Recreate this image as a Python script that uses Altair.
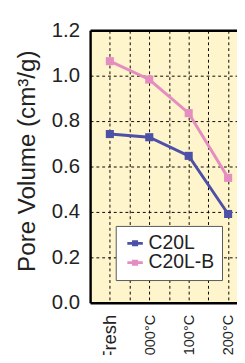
import json
import altair as alt
import pandas as pd

categories = ["Fresh", "1000°C", "1100°C", "1200°C"]
series_names = ["C20L", "C20L-B"]
c20l_values = [0.743, 0.729, 0.647, 0.391]
c20lb_values = [1.064, 0.983, 0.835, 0.550]
y_ticks = [0.0, 0.2, 0.4, 0.6, 0.8, 1.0, 1.2]
x_grid = [0, 0.5, 1, 1.5, 2, 2.5, 3]
series_colors = ["#4C50A6", "#E58DC1"]

rows = []
for name, vals in zip(series_names, [c20l_values, c20lb_values]):
    for i, (c, v) in enumerate(zip(categories, vals)):
        rows.append({"series": name, "idx": i, "cat": c, "value": v})
df = pd.DataFrame(rows)

W, H = 152, 282
step = 40.8
xdom = [-0.5, -0.5 + W / step]
label_expr = json.dumps(categories, ensure_ascii=False) + "[datum.value] || ''"

xscale = alt.Scale(domain=xdom, nice=False, zero=False)
yscale = alt.Scale(domain=[0, 1.2], nice=False, zero=False)

legend_path = "M-1,0L1,0M-0.2,-0.2L0.2,-0.2L0.2,0.2L-0.2,0.2Z"

lines = alt.Chart(df).mark_line(
    strokeWidth=3,
    point=alt.OverlayMarkDef(shape="square", filled=True, size=70, opacity=1),
).encode(
    x=alt.X("idx:Q", scale=xscale, axis=alt.Axis(
        orient="bottom", values=x_grid, labelExpr=label_expr, labelAngle=-90,
        labelAlign="right", labelBaseline="middle", labelFont="Liberation Sans",
        labelFontSize={"condition": {"test": "datum.value == 0", "value": 19}, "value": 15},
        labelPadding=12, labelColor="#222", labelOverlap=False,
        labelFlush=False, ticks=False, domain=True, domainColor="black", domainWidth=2.5,
        grid=True, gridColor="black", gridDash=[3, 3], gridWidth=1, title=None)),
    y=alt.Y("value:Q", scale=yscale, axis=alt.Axis(
        values=y_ticks, format=".1f", labelFont="Liberation Sans", labelFontSize=21,
        labelColor="#222", labelPadding=11, ticks=False, domain=True, domainColor="black",
        domainWidth=2.5, grid=True, gridColor="black", gridDash=[3, 3], gridWidth=1,
        title="Pore Volume (cm³/g)", titleFont="Liberation Sans", titleFontSize=25,
        titleFontWeight="normal", titleColor="#222", titleAngle=-90, titleAlign="center",
        titleBaseline="alphabetic", titleX=-58, titleY=135)),
    color=alt.Color("series:N", scale=alt.Scale(domain=series_names, range=series_colors),
                    legend=alt.Legend(
                        orient="none", legendX=26.5, legendY=202.5, title=None,
                        labelFont="Liberation Sans", labelFontSize=20, labelColor="#222",
                        symbolType=legend_path, symbolSize=256, symbolStrokeWidth=3,
                        symbolOffset=2, padding=8, rowPadding=0, labelOffset=4,
                        strokeColor="#555", fillColor="white", cornerRadius=0)),
)

top = alt.Chart(df).mark_point(opacity=0).encode(
    x=alt.X("idx:Q", scale=xscale, axis=alt.Axis(
        orient="top", labels=False, ticks=False, grid=False, domain=True,
        domainColor="black", domainWidth=2.5, title=None)),
)

chart = alt.layer(lines, top).resolve_axis(x="independent").properties(
    width=W, height=H,
    padding={"left": 85, "top": 17, "right": 0, "bottom": 48},
    autosize=alt.AutoSizeParams(type="none"),
    background="white",
).configure_view(fill="#FFF5CC", stroke=None)

chart.save("out.html", embed_options={"renderer": "svg", "actions": False})
